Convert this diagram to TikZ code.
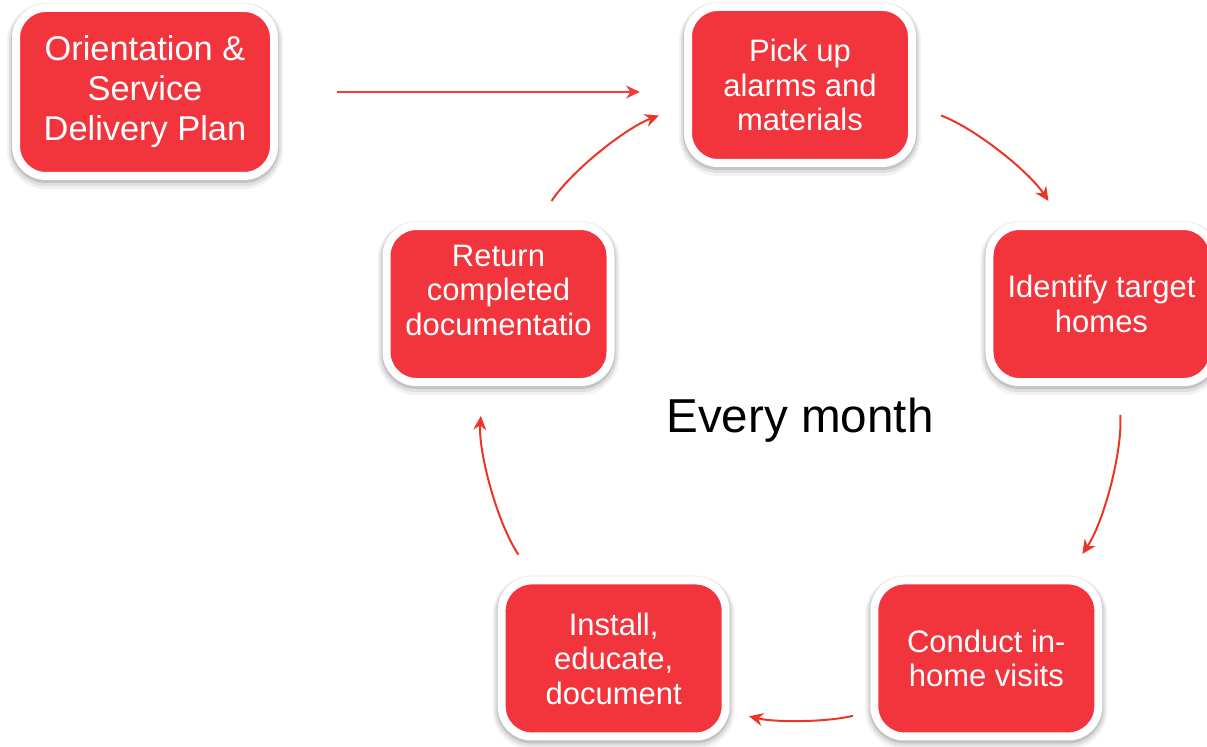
\documentclass[tikz,border=0pt]{standalone}
\usepackage{fontspec}
\setmainfont{Liberation Sans}
\usetikzlibrary{arrows.meta,shadows}
\definecolor{boxred}{HTML}{F2343D}
\definecolor{loopred}{HTML}{EC3524}
\definecolor{leadred}{HTML}{F03C3C}
\tikzset{
    boxtext/.style={text=white, align=center, font=\fontsize{15.5}{17.25}\selectfont},
    stepbox/.style={boxtext, fill=boxred, draw=white, line width=4pt,
        rounded corners=15pt, minimum width=112pt, minimum height=78pt,
        inner sep=2pt, outer sep=0pt,
        drop shadow={shadow xshift=0pt, shadow yshift=-2pt, opacity=0.05,
            fill=black, draw=black, line width=9pt},
        drop shadow={shadow xshift=0pt, shadow yshift=-1.5pt, opacity=0.08,
            fill=black, draw=black, line width=7pt},
        drop shadow={shadow xshift=0pt, shadow yshift=-1pt, opacity=0.12,
            fill=black, draw=black, line width=5pt}},
    cyc/.style={draw=loopred, line width=1pt, -{Stealth[length=7pt,width=6.5pt]},
        shorten <=15pt, shorten >=15pt, looseness=0.87}
}

\begin{document}
\begin{tikzpicture}[x=0.5pt, y=0.5pt]
\useasboundingbox (0,0) rectangle (1207,747);
\coordinate (ctr) at (800,345);

\node[stepbox, minimum width=129pt, minimum height=84pt,
    font=\fontsize{17.2}{20}\selectfont] (orient) at (145,655)
    {Orientation \&\\Service\\Delivery Plan};

\node[stepbox] (pick) at ([shift={(90:317)}]ctr) {Pick up\\alarms and\\materials};
\node[stepbox] (ident) at ([shift={(18:317)}]ctr) {Identify target\\homes};
\node[stepbox] (conduct) at ([shift={(-54:317)}]ctr) {Conduct in-\\home visits};
\node[stepbox] (install) at ([shift={(-126:317)}]ctr) {Install,\\educate,\\document};
\node[stepbox, label={[boxtext, yshift=7pt]center:Return\\completed\\documentatio}]
    (ret) at ([shift={(162:317)}]ctr) {};

\node[anchor=base, font=\fontsize{23.8}{28}\selectfont] (month)
    at ([yshift=-15.5pt]ctr) {Every month};

% lead-in arrow and the monthly loop
\draw[cyc, draw=leadred, shorten <=31.5pt, shorten >=24pt]
    (orient.east) -- (orient.east -| pick.west);
\draw[cyc, shorten <=15.5pt] (pick.-10) to[bend left=18] (ident.115);
\draw[cyc, shorten <=16.5pt, shorten >=16pt] (ident.-78) to[bend left=19] (conduct.45);
\draw[cyc, shorten <=11pt, shorten >=12pt] (conduct.205) to[bend left=13.5] (install.-25);
\draw[cyc, shorten <=15.5pt, shorten >=17pt] (install.135) to[bend left=19] (ret.-101);
\draw[cyc, shorten >=15.5pt] (ret.65) to[bend left=18] (pick.190);
\end{tikzpicture}
\end{document}
